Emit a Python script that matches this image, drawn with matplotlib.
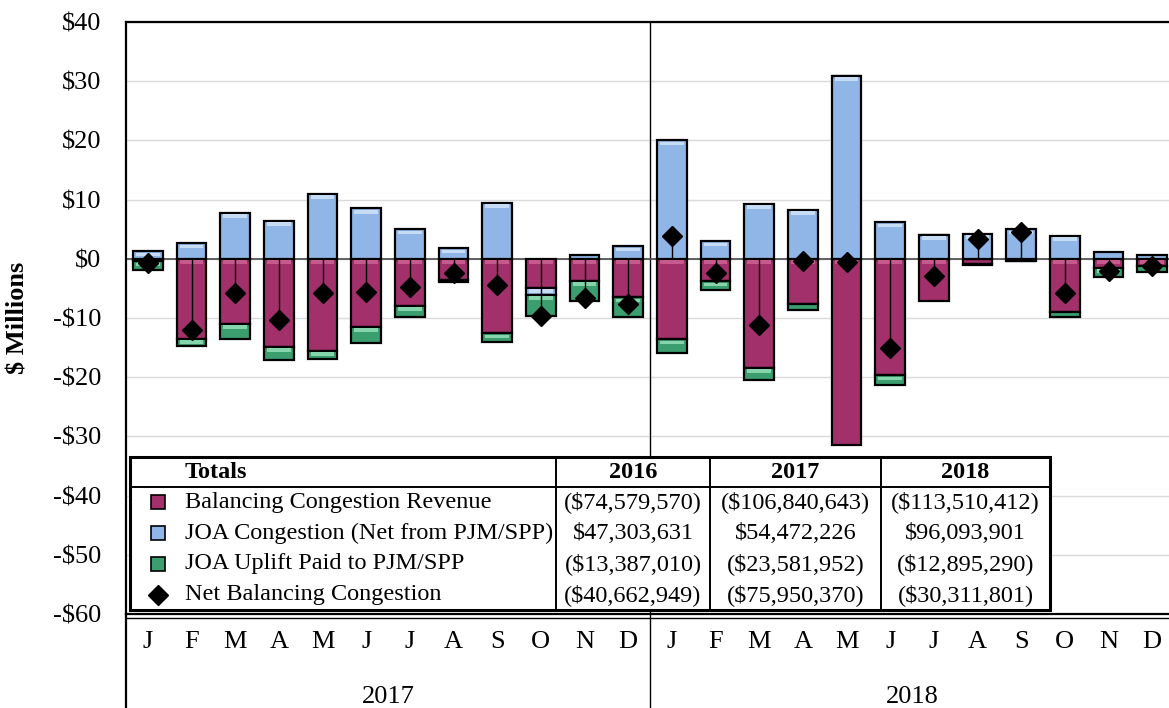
import numpy as np
import matplotlib.pyplot as plt
import matplotlib.transforms as mtransforms
from matplotlib.patches import Rectangle
from matplotlib.lines import Line2D

plt.rcParams["font.family"] = ["Liberation Serif", "DejaVu Serif"]

# ----- data ($ millions) -----
months = ["J", "F", "M", "A", "M", "J", "J", "A", "S", "O", "N", "D"] * 2
years = ["2017", "2018"]

balancing = [-0.4, -13.5, -11.0, -14.9, -15.5, -11.5, -7.9, -3.5, -12.6, -4.9, -3.7, -6.5,
             -13.6, -3.8, -18.4, -7.6, -31.4, -19.7, -7.1, -0.8, -0.3, -9.0, -1.5, -1.2]
joa_cong = [1.3, 2.6, 7.8, 6.4, 11.0, 8.5, 5.0, 1.8, 9.5, -1.2, 0.6, 2.1,
            20.0, 3.0, 9.3, 8.3, 30.9, 6.2, 4.1, 4.2, 5.0, 3.9, 1.1, 0.7]
joa_uplift = [-1.5, -1.3, -2.5, -2.2, -1.4, -2.7, -1.9, -0.4, -1.4, -3.6, -3.4, -3.3,
              -2.3, -1.5, -2.0, -1.1, 0.0, -1.6, 0.0, -0.2, -0.1, -0.8, -1.6, -1.0]
net = [-0.7, -12.1, -5.8, -10.4, -5.8, -5.6, -4.8, -2.4, -4.5, -9.6, -6.6, -7.7,
       3.8, -2.4, -11.1, -0.4, -0.6, -15.1, -2.9, 3.3, 4.5, -5.8, -2.1, -1.3]

series_names = ["Balancing Congestion Revenue", "JOA Congestion (Net from PJM/SPP)",
                "JOA Uplift Paid to PJM/SPP", "Net Balancing Congestion"]
table_years = ["2016", "2017", "2018"]
table_vals = [
    ["($74,579,570)", "($106,840,643)", "($113,510,412)"],
    ["$47,303,631", "$54,472,226", "$96,093,901"],
    ["($13,387,010)", "($23,581,952)", "($12,895,290)"],
    ["($40,662,949)", "($75,950,370)", "($30,311,801)"],
]

colors = ["#A2306B", "#8FB6E6", "#3A9E6E"]
highlights = ["#C65A8F", "#C6DCF5", "#86D4AC"]

fig = plt.figure(figsize=(11.69, 7.08), dpi=100)
W, H = 1169, 708
# axes spans px 126..1174 horizontally, 22..614 vertically
ax = fig.add_axes([126 / W, (H - 614) / H, (1174 - 126) / W, (614 - 22) / H])

x = np.arange(len(months))
pos = np.zeros(len(x))
neg = np.zeros(len(x))
bw = 0.68
for vals, c, hc in zip([balancing, joa_cong, joa_uplift], colors, highlights):
    v = np.array(vals, dtype=float)
    bottom = np.where(v >= 0, pos, neg)
    ax.bar(x, v, bottom=bottom, width=bw, color=c, edgecolor="black", linewidth=1.6, zorder=3)
    # light band near the top of each segment (Excel style shading)
    top = np.maximum(bottom, bottom + v)
    big = np.abs(v) >= 1.2
    ax.bar(x[big], np.full(big.sum(), -0.6), bottom=top[big] - 0.25, width=bw * 0.8,
           color=hc, linewidth=0, zorder=3.5)
    pos += np.clip(v, 0, None)
    neg += np.clip(v, None, 0)

ax.axhline(0, color="#555555", lw=1.3, zorder=2.5)
ax.vlines(x, 0, net, color="black", lw=1.0, zorder=5)
ax.plot(x, net, linestyle="none", marker="D", color="black", ms=10, zorder=6)

ax.set_xlim(-0.5, 23.5)
ax.set_ylim(-60, 40)
ticks = list(range(-60, 41, 10))
ax.set_yticks(ticks)
ax.set_yticklabels([f"-${-t}" if t < 0 else f"${t}" for t in ticks], fontsize=19)
ax.tick_params(axis="y", length=0, pad=18)
ax.set_xticks([])
ax.grid(axis="y", color="#DADADA", lw=1.0, zorder=0)
ax.set_axisbelow(True)
for s in ["left", "top", "bottom"]:
    ax.spines[s].set_linewidth(1.6)
ax.spines["right"].set_visible(False)

fig.text(18 / W, 1 - 318 / H, "$ Millions", rotation=90, ha="center", va="center",
         fontsize=19, fontweight="bold")

# ----- category axis below the plot -----
trans = mtransforms.blended_transform_factory(ax.transData, ax.transAxes)
for i, m in enumerate(months):
    ax.text(i, -28 / 592, m, transform=trans, ha="center", va="center", fontsize=19)
for j, yr in enumerate(years):
    ax.text(j * 12 + 5.5, -83 / 592, yr, transform=trans, ha="center", va="center", fontsize=19)
ax.plot([11.5, 11.5], [-0.2, 1.0], transform=trans, color="black", lw=1.0, clip_on=False, zorder=2)
ax.plot([-0.5, -0.5], [-0.2, 0.0], transform=trans, color="black", lw=1.6, clip_on=False)
ax.plot([-0.5, 23.5], [-4 / 592, -4 / 592], transform=trans, color="black", lw=1.0, clip_on=False)

# ----- totals table (pixel layout -> axes fraction) -----
def fx(px):
    return (px - 126) / 1048


def fy(py):
    return (614 - py) / 592


tx0, tx1 = 130, 1050
ty0, ty1 = 457, 610
col_edges = [tx0, 556, 710, 881, tx1]
head_y = 487
row_h = (ty1 - head_y) / 4

ax.add_patch(Rectangle((fx(tx0), fy(ty1)), fx(tx1) - fx(tx0), fy(ty0) - fy(ty1),
                       transform=ax.transAxes, facecolor="white", edgecolor="black",
                       lw=2.2, zorder=7, clip_on=False))
ax.add_line(Line2D([fx(tx0), fx(tx1)], [fy(head_y), fy(head_y)], transform=ax.transAxes,
                   color="black", lw=1.4, zorder=8))
for ce in col_edges[1:-1]:
    ax.add_line(Line2D([fx(ce), fx(ce)], [fy(ty0), fy(ty1)], transform=ax.transAxes,
                       color="black", lw=1.4, zorder=8))

tsize = 17.5
ax.text(fx(185), fy((ty0 + head_y) / 2), "Totals", transform=ax.transAxes, ha="left",
        va="center", fontsize=tsize, fontweight="bold", zorder=9)
for k, yr in enumerate(table_years):
    cx = (col_edges[k + 1] + col_edges[k + 2]) / 2
    ax.text(fx(cx), fy((ty0 + head_y) / 2), yr, transform=ax.transAxes, ha="center",
            va="center", fontsize=tsize, fontweight="bold", zorder=9)

for r, name in enumerate(series_names):
    cy = head_y + row_h * (r + 0.5)
    if r < 3:
        ax.add_patch(Rectangle((fx(151), fy(cy + 7)), fx(165) - fx(151), fy(cy - 7) - fy(cy + 7),
                               transform=ax.transAxes, facecolor=colors[r], edgecolor="black",
                               lw=1.2, zorder=9))
    else:
        ax.plot([fx(158)], [fy(cy)], transform=ax.transAxes, marker="D", color="black",
                ms=10, zorder=9, clip_on=False)
    ax.text(fx(185), fy(cy), name, transform=ax.transAxes, ha="left", va="center",
            fontsize=tsize, zorder=9)
    for k in range(3):
        cx = (col_edges[k + 1] + col_edges[k + 2]) / 2
        ax.text(fx(cx), fy(cy), table_vals[r][k], transform=ax.transAxes, ha="center",
                va="center", fontsize=tsize, zorder=9)

fig.savefig("out.png", dpi=100)
